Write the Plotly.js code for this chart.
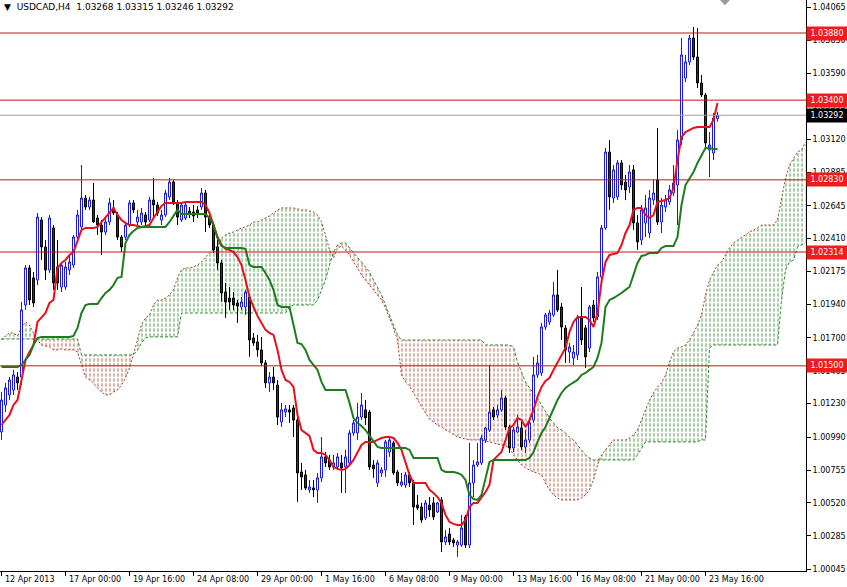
<!DOCTYPE html>
<html><head><meta charset="utf-8">
<script src="https://cdn.plot.ly/plotly-3.0.1.min.js"></script>
<style>html,body{margin:0;padding:0;background:#fff;}#chart{width:847px;height:587px;}</style>
</head><body><div id="chart"></div>
<script>
const headerText = "USDCAD,H4";
const lastQuote = ["1.03268","1.03315","1.03246","1.03292"];

const openP = [1.01027,1.01220,1.01292,1.01328,1.01420,1.01420,1.01935,1.02200,1.02129,1.02114,
1.02543,1.02350,1.02186,1.02486,1.02207,1.02064,1.02064,1.02186,1.02221,1.02421,
1.02493,1.02700,1.02636,1.02686,1.02557,1.02507,1.02457,1.02529,1.02629,1.02579,
1.02421,1.02421,1.02507,1.02665,1.02529,1.02529,1.02579,1.02543,1.02686,1.02650,
1.02543,1.02579,1.02708,1.02815,1.02665,1.02543,1.02557,1.02607,1.02600,1.02615,
1.02636,1.02736,1.02564,1.02507,1.02350,1.02236,1.02028,1.01985,1.01985,1.01950,
1.01921,1.01921,1.01992,1.01699,1.01671,1.01614,1.01521,1.01378,1.01420,1.01363,
1.01099,1.01170,1.01185,1.01199,1.01113,1.00741,1.00720,1.00613,1.00627,1.00613,
1.00699,1.00849,1.00827,1.00777,1.00777,1.00806,1.00777,1.00806,1.01020,1.01020,
1.01134,1.01185,1.01170,1.00791,1.00663,1.00734,1.00756,1.00884,1.00949,1.00741,
1.00648,1.00648,1.00720,1.00663,1.00505,1.00491,1.00413,1.00505,1.00520,1.00455,
1.00541,1.00241,1.00298,1.00255,1.00219,1.00219,1.00420,1.00219,1.00663,1.00791,
1.00806,1.00970,1.01041,1.01185,1.01149,1.01185,1.01270,1.01063,1.00913,1.01027,
1.01056,1.00920,1.00970,1.01113,1.01435,1.01449,1.01778,1.01814,1.01864,1.02007,
1.01921,1.01771,1.01599,1.01556,1.01578,1.01843,1.01771,1.01628,1.01935,1.01850,
1.02136,1.02486,1.03029,1.02700,1.02708,1.02951,1.02815,1.02779,1.02901,1.02522,
1.02400,1.02522,1.02450,1.02686,1.02829,1.02529,1.02636,1.02672,1.02736,1.02793,
1.03115,1.03558,1.03673,1.03844,1.03708,1.03523,1.03437,1.03044,1.03022,1.03268];
const highP = [1.01313,1.01378,1.01420,1.01471,1.01456,1.01957,1.02221,1.02221,1.02171,1.02593,
1.02564,1.02400,1.02579,1.02507,1.02400,1.02243,1.02243,1.02293,1.02436,1.02615,
1.02936,1.02722,1.02708,1.02808,1.02579,1.02543,1.02557,1.02700,1.02686,1.02600,
1.02436,1.02529,1.02686,1.02686,1.02615,1.02629,1.02600,1.02708,1.02843,1.02672,
1.02615,1.02758,1.02843,1.02829,1.02686,1.02665,1.02665,1.02636,1.02650,1.02643,
1.02772,1.02758,1.02586,1.02529,1.02400,1.02257,1.02093,1.02064,1.02028,1.01971,
1.01992,1.02043,1.02000,1.01735,1.01721,1.01707,1.01542,1.01456,1.01492,1.01399,
1.01235,1.01220,1.01220,1.01220,1.01134,1.00806,1.00756,1.00684,1.00684,1.00734,
1.00991,1.00884,1.00863,1.00863,1.00877,1.00863,1.00899,1.01041,1.01113,1.01235,
1.01306,1.01256,1.01185,1.00827,1.00827,1.00777,1.00970,1.00984,1.00963,1.00756,
1.00734,1.00741,1.00741,1.00684,1.00577,1.00520,1.00541,1.00562,1.00562,1.00527,
1.00562,1.00327,1.00341,1.00269,1.00255,1.00434,1.00434,1.00949,1.00827,1.00949,
1.01006,1.01063,1.01506,1.01206,1.01220,1.01328,1.01285,1.01077,1.01063,1.01149,
1.01113,1.01041,1.01127,1.01564,1.01578,1.01807,1.01878,1.01900,1.02100,1.02186,
1.01950,1.01792,1.01664,1.01649,1.01864,1.02064,1.01792,1.01935,1.01971,1.02171,
1.02507,1.03058,1.03115,1.02936,1.02972,1.02972,1.02865,1.02936,1.02936,1.02579,
1.02650,1.02722,1.02758,1.02829,1.03201,1.02700,1.02722,1.02793,1.02936,1.03187,
1.03844,1.03723,1.03866,1.03923,1.03916,1.03580,1.03451,1.03172,1.03308,1.03315];
const lowP = [1.00970,1.01170,1.01256,1.01292,1.01328,1.01363,1.01900,1.01935,1.01921,1.02078,
1.02257,1.02114,1.02164,1.02043,1.02043,1.02028,1.02043,1.02150,1.02200,1.02400,
1.02472,1.02615,1.02615,1.02522,1.02436,1.02293,1.02436,1.02507,1.02579,1.02400,
1.02314,1.02400,1.02493,1.02593,1.02507,1.02507,1.02507,1.02529,1.02564,1.02572,
1.02507,1.02564,1.02686,1.02650,1.02507,1.02529,1.02543,1.02557,1.02529,1.02557,
1.02615,1.02457,1.02486,1.02307,1.02186,1.01957,1.01843,1.01900,1.01900,1.01807,
1.01900,1.01864,1.01564,1.01642,1.01564,1.01499,1.01342,1.01313,1.01328,1.01077,
1.01063,1.01134,1.01092,1.00991,1.00527,1.00613,1.00613,1.00591,1.00562,1.00520,
1.00670,1.00777,1.00756,1.00756,1.00756,1.00591,1.00591,1.00791,1.00999,1.00970,
1.01113,1.01077,1.00756,1.00699,1.00634,1.00706,1.00706,1.00849,1.00720,1.00641,
1.00634,1.00627,1.00634,1.00362,1.00470,1.00377,1.00398,1.00420,1.00398,1.00448,
1.00169,1.00219,1.00219,1.00205,1.00134,1.00205,1.00198,1.00198,1.00562,1.00777,
1.00791,1.00949,1.01027,1.01113,1.01127,1.01170,1.01041,1.00877,1.00884,1.01020,
1.00899,1.00877,1.00949,1.01092,1.01413,1.01428,1.01757,1.01792,1.01850,1.01885,
1.01685,1.01521,1.01521,1.01506,1.01542,1.01649,1.01485,1.01599,1.01814,1.01828,
1.02114,1.02472,1.02615,1.02665,1.02686,1.02758,1.02686,1.02736,1.02472,1.02329,
1.02364,1.02421,1.02414,1.02650,1.02507,1.02450,1.02600,1.02650,1.02715,1.02507,
1.03079,1.03530,1.03651,1.03687,1.03487,1.03422,1.03058,1.02850,1.02972,1.03246];
const closeP = [1.01256,1.01342,1.01399,1.01435,1.01378,1.01900,1.02200,1.01971,1.01950,1.02564,
1.02350,1.02186,1.02557,1.02093,1.02093,1.02221,1.02207,1.02243,1.02421,1.02579,
1.02700,1.02636,1.02686,1.02529,1.02507,1.02457,1.02529,1.02665,1.02593,1.02421,
1.02350,1.02507,1.02665,1.02615,1.02564,1.02593,1.02529,1.02686,1.02650,1.02593,
1.02579,1.02736,1.02815,1.02665,1.02564,1.02650,1.02650,1.02579,1.02572,1.02586,
1.02736,1.02564,1.02507,1.02329,1.02236,1.02021,1.01957,1.01957,1.01935,1.01928,
1.01957,1.02028,1.01685,1.01664,1.01614,1.01521,1.01378,1.01420,1.01378,1.01134,
1.01185,1.01192,1.01170,1.01113,1.00734,1.00706,1.00627,1.00634,1.00613,1.00699,
1.00849,1.00806,1.00777,1.00806,1.00849,1.00770,1.00849,1.01020,1.01092,1.01134,
1.01220,1.01127,1.00777,1.00763,1.00806,1.00756,1.00956,1.00970,1.00734,1.00663,
1.00670,1.00720,1.00663,1.00491,1.00484,1.00398,1.00520,1.00470,1.00420,1.00520,
1.00241,1.00277,1.00241,1.00234,1.00241,1.00341,1.00219,1.00663,1.00791,1.00813,
1.00984,1.01056,1.01170,1.01134,1.01185,1.01270,1.01063,1.00913,1.01041,1.01063,
1.00920,1.00970,1.01092,1.01435,1.01521,1.01778,1.01864,1.01878,1.02007,1.01900,
1.01778,1.01614,1.01635,1.01599,1.01843,1.01685,1.01564,1.01921,1.01843,1.02136,
1.02486,1.03029,1.02708,1.02901,1.02951,1.02793,1.02758,1.02886,1.02522,1.02386,
1.02615,1.02629,1.02700,1.02736,1.02529,1.02650,1.02686,1.02758,1.02808,1.03115,
1.03723,1.03673,1.03844,1.03708,1.03523,1.03437,1.03094,1.03079,1.03272,1.03292];

const tenkan = [1.01077,1.01113,1.01149,1.01220,1.01256,1.01399,1.01542,1.01599,1.01649,1.01814,
1.01850,1.01878,1.01950,1.01971,1.02200,1.02236,1.02257,1.02293,1.02314,1.02400,
1.02472,1.02486,1.02486,1.02486,1.02493,1.02529,1.02557,1.02593,1.02629,1.02579,
1.02543,1.02522,1.02507,1.02507,1.02500,1.02493,1.02500,1.02507,1.02557,1.02600,
1.02643,1.02665,1.02665,1.02665,1.02665,1.02665,1.02672,1.02672,1.02672,1.02672,
1.02672,1.02650,1.02593,1.02507,1.02421,1.02364,1.02336,1.02329,1.02314,1.02278,
1.02221,1.02114,1.01992,1.01921,1.01857,1.01807,1.01757,1.01735,1.01721,1.01614,
1.01471,1.01399,1.01385,1.01349,1.01149,1.01041,1.01020,1.00999,1.00899,1.00877,
1.00877,1.00863,1.00827,1.00777,1.00763,1.00756,1.00763,1.00791,1.00827,1.00884,
1.00934,1.00956,1.00956,1.00956,1.00970,1.00984,1.00991,1.00991,1.00984,1.00949,
1.00899,1.00813,1.00720,1.00663,1.00663,1.00663,1.00663,1.00613,1.00591,1.00562,
1.00520,1.00434,1.00384,1.00370,1.00362,1.00362,1.00398,1.00491,1.00520,1.00520,
1.00555,1.00598,1.00648,1.00827,1.00856,1.00884,1.00970,1.01056,1.01077,1.01127,
1.01113,1.01063,1.01113,1.01185,1.01278,1.01349,1.01392,1.01413,1.01471,1.01521,
1.01578,1.01628,1.01742,1.01814,1.01850,1.01850,1.01850,1.01828,1.01778,1.01878,
1.02100,1.02243,1.02293,1.02300,1.02307,1.02364,1.02450,1.02507,1.02615,1.02629,
1.02629,1.02579,1.02557,1.02579,1.02672,1.02679,1.02686,1.02700,1.02772,1.02972,
1.03136,1.03172,1.03187,1.03201,1.03208,1.03208,1.03208,1.03208,1.03258,1.03380];

const kijun = [1.01492,1.01492,1.01492,1.01492,1.01492,1.01506,1.01542,1.01578,1.01649,1.01699,
1.01707,1.01707,1.01707,1.01707,1.01707,1.01707,1.01707,1.01707,1.01714,1.01771,
1.01878,1.01935,1.01942,1.01942,1.01942,1.01985,1.02021,1.02043,1.02078,1.02129,
1.02136,1.02379,1.02436,1.02464,1.02486,1.02493,1.02493,1.02493,1.02493,1.02493,
1.02493,1.02493,1.02529,1.02572,1.02615,1.02586,1.02586,1.02586,1.02586,1.02586,
1.02586,1.02586,1.02557,1.02507,1.02414,1.02357,1.02343,1.02343,1.02343,1.02343,
1.02343,1.02336,1.02221,1.02207,1.02207,1.02207,1.02164,1.02114,1.02043,1.01935,
1.01921,1.01921,1.01921,1.01792,1.01664,1.01656,1.01614,1.01542,1.01506,1.01471,
1.01385,1.01328,1.01328,1.01328,1.01328,1.01328,1.01328,1.01235,1.01127,1.01092,
1.01070,1.01041,1.00999,1.00956,1.00920,1.00913,1.00913,1.00913,1.00913,1.00913,
1.00913,1.00913,1.00899,1.00841,1.00841,1.00841,1.00841,1.00841,1.00841,1.00841,
1.00756,1.00741,1.00741,1.00741,1.00734,1.00720,1.00684,1.00577,1.00548,1.00541,
1.00577,1.00699,1.00813,1.00827,1.00827,1.00827,1.00827,1.00827,1.00827,1.00827,
1.00827,1.00827,1.00841,1.00884,1.00956,1.01020,1.01063,1.01127,1.01185,1.01256,
1.01306,1.01342,1.01363,1.01378,1.01399,1.01435,1.01449,1.01471,1.01492,1.01556,
1.01664,1.01921,1.01971,1.01985,1.02000,1.02021,1.02043,1.02064,1.02150,1.02236,
1.02286,1.02293,1.02307,1.02307,1.02307,1.02343,1.02357,1.02357,1.02357,1.02421,
1.02650,1.02793,1.02843,1.02886,1.02951,1.03008,1.03058,1.03058,1.03051,1.03051];

const spanA = [1.01685,1.01714,1.01735,1.01735,1.01714,1.01771,1.01814,1.01792,1.01735,1.01685,
1.01649,1.01642,1.01635,1.01614,1.01614,1.01621,1.01614,1.01614,1.01614,1.01599,
1.01506,1.01420,1.01399,1.01378,1.01342,1.01313,1.01292,1.01292,1.01313,1.01328,
1.01363,1.01413,1.01485,1.01578,1.01685,1.01792,1.01843,1.01864,1.01935,1.01971,
1.01971,1.01985,1.02007,1.02043,1.02129,1.02186,1.02200,1.02200,1.02207,1.02221,
1.02243,1.02278,1.02307,1.02329,1.02364,1.02414,1.02436,1.02450,1.02457,1.02472,
1.02486,1.02493,1.02507,1.02529,1.02529,1.02543,1.02557,1.02572,1.02593,1.02615,
1.02629,1.02629,1.02629,1.02629,1.02622,1.02615,1.02615,1.02607,1.02600,1.02579,
1.02529,1.02436,1.02329,1.02271,1.02343,1.02357,1.02329,1.02293,1.02243,1.02200,
1.02150,1.02114,1.02078,1.02043,1.02007,1.01971,1.01914,1.01843,1.01771,1.01685,
1.01435,1.01385,1.01356,1.01306,1.01256,1.01206,1.01163,1.01120,1.01099,1.01077,
1.01063,1.01041,1.01027,1.01006,1.00991,1.00984,1.00977,1.00970,1.00970,1.00970,
1.00970,1.00963,1.00956,1.00949,1.00941,1.00934,1.00927,1.00913,1.00863,1.00827,
1.00791,1.00770,1.00756,1.00741,1.00734,1.00720,1.00663,1.00613,1.00577,1.00555,
1.00541,1.00541,1.00541,1.00541,1.00541,1.00555,1.00577,1.00613,1.00684,1.00791,
1.00863,1.00899,1.00934,1.00970,1.00970,1.00970,1.00970,1.00984,1.01006,1.01041,
1.01113,1.01185,1.01256,1.01306,1.01349,1.01378,1.01435,1.01528,1.01599,1.01628,
1.01635,1.01649,1.01685,1.01735,1.01792,1.01864,1.02007,1.02114,1.02171,1.02221,
1.02243,1.02293,1.02343,1.02379,1.02400,1.02421,1.02436,1.02457,1.02472,1.02486,
1.02507,1.02507,1.02507,1.02507,1.02543,1.02686,1.02843,1.02936,1.02986,1.03029,
1.03044,1.03101];

const spanB = [1.01692,1.01692,1.01692,1.01692,1.01692,1.01692,1.01692,1.01692,1.01692,1.01692,
1.01692,1.01692,1.01692,1.01692,1.01692,1.01692,1.01692,1.01692,1.01692,1.01692,
1.01578,1.01578,1.01578,1.01578,1.01578,1.01578,1.01578,1.01578,1.01578,1.01578,
1.01578,1.01578,1.01578,1.01578,1.01614,1.01664,1.01699,1.01707,1.01707,1.01707,
1.01707,1.01707,1.01707,1.01707,1.01707,1.01878,1.01878,1.01878,1.01878,1.01878,
1.01878,1.01878,1.01878,1.01878,1.01878,1.01878,1.01878,1.01878,1.01878,1.01878,
1.01878,1.01878,1.01878,1.01878,1.01878,1.01878,1.01878,1.01878,1.01878,1.01878,
1.01878,1.01878,1.01921,1.01935,1.01935,1.01935,1.01935,1.01935,1.01935,1.01971,
1.02043,1.02114,1.02221,1.02314,1.02364,1.02379,1.02379,1.02343,1.02307,1.02271,
1.02236,1.02200,1.02171,1.02114,1.02064,1.02007,1.01935,1.01864,1.01792,1.01721,
1.01685,1.01685,1.01685,1.01685,1.01685,1.01685,1.01685,1.01685,1.01685,1.01685,
1.01685,1.01685,1.01685,1.01685,1.01685,1.01685,1.01685,1.01685,1.01685,1.01685,
1.01685,1.01649,1.01649,1.01649,1.01649,1.01649,1.01649,1.01649,1.01635,1.01528,
1.01456,1.01385,1.01342,1.01306,1.01270,1.01220,1.01170,1.01127,1.01092,1.01056,
1.01041,1.01020,1.00991,1.00970,1.00934,1.00899,1.00863,1.00841,1.00827,1.00827,
1.00827,1.00827,1.00827,1.00827,1.00827,1.00827,1.00827,1.00827,1.00827,1.00863,
1.00913,1.00956,1.00956,1.00956,1.00956,1.00956,1.00956,1.00956,1.00956,1.00956,
1.00956,1.00956,1.00956,1.00956,1.00956,1.00970,1.00970,1.01628,1.01649,1.01649,
1.01649,1.01649,1.01649,1.01649,1.01649,1.01649,1.01649,1.01649,1.01649,1.01649,
1.01649,1.01649,1.01649,1.01649,1.01649,1.01971,1.02186,1.02243,1.02257,1.02350,
1.02364,1.02379];

const priceTicks = [1.04065,1.03830,1.03590,1.03355,1.03120,1.02885,1.02645,1.02410,1.02175,1.01940,1.01700,1.01465,1.01230,1.00990,1.00755,1.00520,1.00285,1.00045];
const levelLines = [1.03880,1.03400,1.02830,1.02314,1.01500];
const bidPrice = 1.03292;
const dateTickBars = [0,16,32,48,64,80,96,112,128,144,160,176];
const dateLabels = ["12 Apr 2013","17 Apr 00:00","19 Apr 16:00","24 Apr 08:00","29 Apr 00:00","1 May 16:00","6 May 08:00","9 May 00:00","13 May 16:00","16 May 08:00","21 May 00:00","23 May 16:00"];

const barIdx = openP.map((_, i) => i);
const cloudIdx = spanA.map((_, i) => i);
const cloudTop = spanA.map((a, i) => Math.max(a, spanB[i]));

const X_RANGE = [-0.375, 201.125];
const Y_RANGE = [1.00033, 1.04116];
const FONT = 'DejaVu Sans';
const NOLINE = {width:0, color:'rgba(0,0,0,0)'};

const traces = [
  {type:'candlestick', x:barIdx, open:openP, high:highP, low:lowP, close:closeP,
   xaxis:'x2', yaxis:'y2', hoverinfo:'skip', whiskerwidth:0,
   increasing:{line:{color:'#1a1ad8', width:1}, fillcolor:'#ffffff'},
   decreasing:{line:{color:'#000000', width:1}, fillcolor:'#6e1e1e'}},
  {type:'scatter', mode:'lines', x:barIdx, y:tenkan, xaxis:'x2', yaxis:'y2', hoverinfo:'skip',
   line:{color:'#e8101a', width:2}},
  {type:'scatter', mode:'lines', x:barIdx, y:kijun, xaxis:'x2', yaxis:'y2', hoverinfo:'skip',
   line:{color:'#1d7d1d', width:2}},
  {type:'scatter', mode:'lines', x:cloudIdx, y:spanB, line:NOLINE, hoverinfo:'skip'},
  {type:'scatter', mode:'lines', x:cloudIdx, y:cloudTop, line:NOLINE, hoverinfo:'skip',
   fill:'tonexty', fillcolor:'rgba(0,0,0,0)',
   fillpattern:{shape:'|', fgcolor:'rgba(35,130,35,0.8)', bgcolor:'rgba(0,0,0,0)', size:4, solidity:0.25}},
  {type:'scatter', mode:'lines', x:cloudIdx, y:spanA, line:NOLINE, hoverinfo:'skip'},
  {type:'scatter', mode:'lines', x:cloudIdx, y:cloudTop, line:NOLINE, hoverinfo:'skip',
   fill:'tonexty', fillcolor:'rgba(0,0,0,0)',
   fillpattern:{shape:'|', fgcolor:'rgba(170,65,40,0.8)', bgcolor:'rgba(0,0,0,0)', size:4, solidity:0.25}},
  {type:'scatter', mode:'lines', x:cloudIdx, y:spanA, line:NOLINE, hoverinfo:'skip'},
  {type:'scatter', mode:'lines', x:cloudIdx, y:spanB, line:NOLINE, hoverinfo:'skip',
   fill:'tonexty', fillcolor:'rgba(0,0,0,0)',
   fillpattern:{shape:'-', fgcolor:'#ffffff', bgcolor:'rgba(0,0,0,0)', size:5, solidity:0.32}},
  {type:'scatter', mode:'lines', x:cloudIdx, y:spanA, hoverinfo:'skip',
   line:{color:'#a0402a', width:1, dash:'2px,2px'}},
  {type:'scatter', mode:'lines', x:cloudIdx, y:spanB, hoverinfo:'skip',
   line:{color:'#2a8a2a', width:1, dash:'3px,2px'}}
];

const shapes = levelLines.map(v => ({type:'line', xref:'paper', x0:0, x1:1, yref:'y', y0:v, y1:v,
  line:{color:'#c41414', width:1}, layer:'above'}));
shapes.push({type:'line', xref:'paper', x0:0, x1:1, yref:'y', y0:bidPrice, y1:bidPrice,
  line:{color:'#a0a0a0', width:1}, layer:'above'});
shapes.push({type:'path', xref:'x', yref:'paper', path:'M 179.6 1 L 182.1 1 L 180.85 0.991 Z',
  fillcolor:'#9a9a9a', line:{width:0}, layer:'above'});

const annotations = [];
levelLines.forEach(v => annotations.push({xref:'paper', x:1, xanchor:'left', xshift:0, yref:'y', y:v, yanchor:'middle',
  text:v.toFixed(5), showarrow:false, bgcolor:'#ee1c1c', borderpad:1, width:38, height:11,
  font:{family:FONT, size:8, color:'#ffffff'}}));
annotations.push({xref:'paper', x:1, xanchor:'left', xshift:0, yref:'y', y:bidPrice, yanchor:'middle',
  text:bidPrice.toFixed(5), showarrow:false, bgcolor:'#000000', borderpad:1, width:38, height:11,
  font:{family:FONT, size:8, color:'#ffffff'}});
dateTickBars.forEach((b, i) => annotations.push({xref:'x', x:b, xanchor:'left', xshift:1, yref:'paper', y:0, yanchor:'top', yshift:-2,
  text:dateLabels[i], showarrow:false, font:{family:FONT, size:8, color:'#000000'}}));
annotations.push({xref:'paper', yref:'paper', x:0, y:1, xanchor:'left', yanchor:'top', xshift:2, yshift:0,
  text:'\u25BC\u00a0\u00a0' + headerText + '\u00a0\u00a0' + lastQuote.join('\u00a0'), showarrow:false,
  font:{family:FONT, size:9, color:'#000000'}});

const layout = {
  width:847, height:587, margin:{l:0, r:41, t:0, b:16, pad:0},
  paper_bgcolor:'#ffffff', plot_bgcolor:'#ffffff', showlegend:false, dragmode:false,
  boxgap:0.5, boxgroupgap:0,
  xaxis:{range:X_RANGE, showgrid:false, zeroline:false, showline:true, linecolor:'#000', linewidth:1,
    ticks:'outside', ticklen:4, tickcolor:'#000', tickvals:dateTickBars, showticklabels:false,
    rangeslider:{visible:false}, fixedrange:true},
  yaxis:{range:Y_RANGE, side:'right', showgrid:false, zeroline:false, showline:true, linecolor:'#000', linewidth:1,
    ticks:'outside', ticklen:4, tickcolor:'#000', tickvals:priceTicks, ticktext:priceTicks.map(v => v.toFixed(5)),
    tickfont:{family:FONT, size:8, color:'#000'}, fixedrange:true},
  xaxis2:{overlaying:'x', range:X_RANGE, visible:false, rangeslider:{visible:false}, fixedrange:true},
  yaxis2:{overlaying:'y', range:Y_RANGE, visible:false, fixedrange:true},
  shapes:shapes, annotations:annotations
};

Plotly.newPlot('chart', traces, layout, {staticPlot:true, displayModeBar:false});
</script>
</body></html>
